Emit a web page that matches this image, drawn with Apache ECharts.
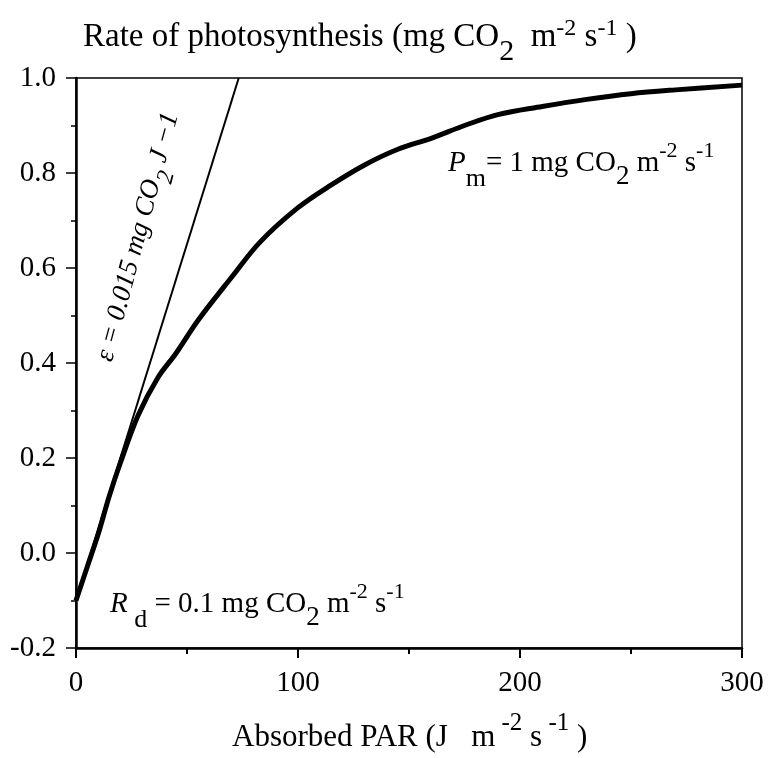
<!DOCTYPE html>
<html lang="en">
<head>
    <meta charset="UTF-8">
    <title>Rate of photosynthesis</title>
    <script src="https://cdn.jsdelivr.net/npm/echarts@6/dist/echarts.min.js"></script>
    <style>
        html, body { margin: 0; padding: 0; background: #fff; }
    </style>
</head>
<body>
<div id="main" style="width:778px; height: 758px"></div>

<script type="text/javascript">
    // light response curve
    var parValues  = [0, 5, 10, 15, 20, 28, 37, 45, 55, 70, 83, 100, 115, 130, 145, 160, 175, 190, 210, 230, 250, 270, 300];
    var rateValues = [-0.1, -0.03, 0.04, 0.12, 0.19, 0.29, 0.37, 0.42, 0.49, 0.58, 0.655, 0.727, 0.775, 0.817, 0.85, 0.873, 0.9, 0.923, 0.94, 0.955, 0.967, 0.975, 0.985];

    // initial slope line (epsilon = 0.015, starting from -Rd)
    var slopeX = [0, 73.3];
    var slopeY = [-0.1, 1.0];

    var xTicks = [0, 100, 200, 300];
    var yTicks = [-0.2, 0.0, 0.2, 0.4, 0.6, 0.8, 1.0];

    var serif = '"Liberation Serif", "DejaVu Serif", serif';

    // sub/superscripts: "height" of the token decides how far it sits from the line middle
    var rich = {
        // titles
        t:    { fontFamily: serif, fontSize: 33, lineHeight: 48, color: '#000' },
        tsub: { fontFamily: serif, fontSize: 30, height: 18, color: '#000', verticalAlign: 'bottom' },
        tsup: { fontFamily: serif, fontSize: 24, height: 32, color: '#000', verticalAlign: 'top' },
        x:    { fontFamily: serif, fontSize: 31, lineHeight: 46, color: '#000' },
        xsup: { fontFamily: serif, fontSize: 25, height: 16, color: '#000', verticalAlign: 'top' },
        // annotations
        n:    { fontFamily: serif, fontSize: 29, lineHeight: 44, color: '#000' },
        i:    { fontFamily: serif, fontSize: 29, lineHeight: 44, color: '#000', fontStyle: 'italic' },
        sup:  { fontFamily: serif, fontSize: 22, height: 20, color: '#000', verticalAlign: 'top' },
        sub:  { fontFamily: serif, fontSize: 27, height: 16, color: '#000', verticalAlign: 'bottom' },
        subm: { fontFamily: serif, fontSize: 26, height: 12, color: '#000', verticalAlign: 'bottom' },
        e:    { fontFamily: serif, fontSize: 27, lineHeight: 40, color: '#000', fontStyle: 'italic' },
        esub: { fontFamily: serif, fontSize: 24, height: 16, color: '#000', fontStyle: 'italic', verticalAlign: 'bottom' }
    };

    function pairs(xs, ys) {
        return xs.map(function (x, k) { return [x, ys[k]]; });
    }

    function label(x, y, text, extra) {
        var el = {
            type: 'text',
            x: x,
            y: y,
            silent: true,
            style: {
                text: text,
                rich: rich,
                fontFamily: serif,
                fontSize: 29,
                fill: '#000',
                align: 'left',
                verticalAlign: 'top'
            }
        };
        if (extra) {
            for (var k in extra) { el[k] = extra[k]; }
        }
        return el;
    }

    var chartDom = document.getElementById('main');
    var myChart = echarts.init(chartDom);
    var option;

    var epsLabel = label(138, 237, '{e|\u03b5 = 0.015 mg CO}{esub|2}{e| J \u22121}', {
        rotation: 75 * Math.PI / 180
    });
    epsLabel.style.align = 'center';
    epsLabel.style.verticalAlign = 'middle';

    option = {
        animation: false,
        backgroundColor: '#fff',
        grid: {
            left: 76,
            right: 36,
            top: 78,
            bottom: 110,
            outerBoundsMode: 'none',
            show: true,
            borderColor: '#000',
            borderWidth: 1.5,
            backgroundColor: 'transparent'
        },
        xAxis: {
            type: 'value',
            min: xTicks[0],
            max: xTicks[xTicks.length - 1],
            interval: 100,
            axisLine: { show: true, onZero: false, lineStyle: { color: '#000', width: 2.5 } },
            axisTick: { show: true, length: 10, lineStyle: { color: '#000', width: 2 } },
            minorTick: { show: true, splitNumber: 2, length: 6, lineStyle: { color: '#000', width: 2 } },
            splitLine: { show: false },
            axisLabel: {
                margin: 21,
                color: '#000',
                fontFamily: serif,
                fontSize: 29
            }
        },
        yAxis: {
            type: 'value',
            min: yTicks[0],
            max: yTicks[yTicks.length - 1],
            interval: 0.2,
            axisLine: { show: true, onZero: false, lineStyle: { color: '#000', width: 2.5 } },
            axisTick: { show: true, length: 10, lineStyle: { color: '#000', width: 1.5 } },
            minorTick: { show: true, splitNumber: 2, length: 5, lineStyle: { color: '#000', width: 1.5 } },
            splitLine: { show: false },
            axisLabel: {
                margin: 20,
                color: '#000',
                fontFamily: serif,
                fontSize: 29,
                formatter: function (v) { return v.toFixed(1); }
            }
        },
        series: [
            {
                name: 'slope',
                type: 'line',
                data: pairs(slopeX, slopeY),
                showSymbol: false,
                lineStyle: { color: '#000', width: 2 },
                z: 2
            },
            {
                name: 'rate',
                type: 'line',
                data: pairs(parValues, rateValues),
                smooth: 0.35,
                showSymbol: false,
                lineStyle: { color: '#000', width: 5 },
                z: 3
            }
        ],
        graphic: [
            // y-axis title
            label(83, 13, '{t|Rate of photosynthesis (mg CO}{tsub|2}{t|  m}{tsup|-2}{t| s}{tsup|-1}{t| )}'),
            // x-axis title
            label(232, 715, '{x|Absorbed PAR (J   m}{xsup| -2}{x| s}{xsup| -1}{x| )}'),
            // Pm
            label(448, 141, '{i|P}{subm|m}{n|= 1 mg CO}{sub|2}{n| m}{sup|-2}{n| s}{sup|-1}'),
            // Rd
            label(110, 582, '{i|R}{subm| d}{n| = 0.1 mg CO}{sub|2}{n| m}{sup|-2}{n| s}{sup|-1}'),
            // epsilon along the slope line
            epsLabel
        ]
    };

    option && myChart.setOption(option);
</script>
</body>
</html>
